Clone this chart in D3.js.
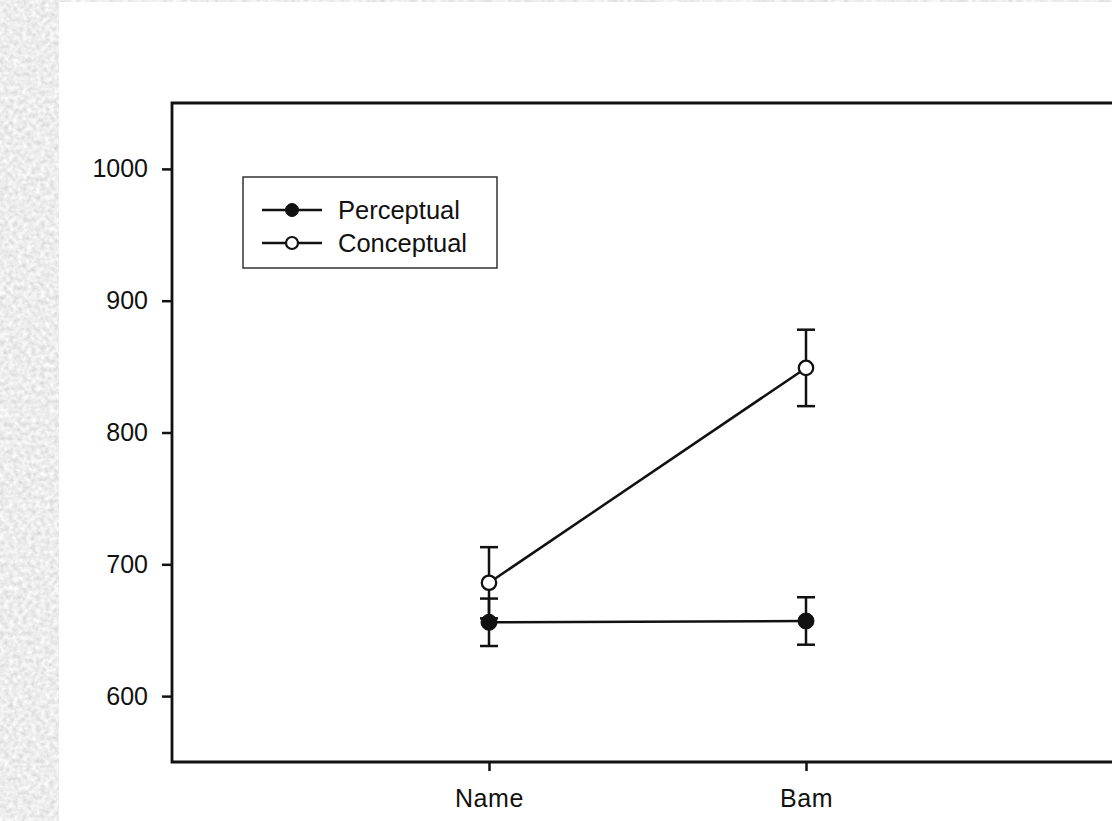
<!DOCTYPE html>
<html>
<head>
<meta charset="utf-8">
<script src="https://cdn.jsdelivr.net/npm/d3@7"></script>
<style>
  html, body { margin: 0; padding: 0; background: #fff; }
  svg { display: block; }
  text { font-family: "Liberation Sans", Arial, sans-serif; fill: #111; }
</style>
</head>
<body>
<svg id="chart" width="1112" height="821"></svg>
<script>
// Conditions on the x axis
const categories = ["Name", "Bam"];
// Mean response times and error half-widths per condition
const perceptual = [656, 657];
const perceptualErr = [18, 18];
const conceptual = [686, 849];
const conceptualErr = [27, 29];
// Y axis ticks
const yTicks = [600, 700, 800, 900, 1000];
const seriesNames = ["Perceptual", "Conceptual"];

const svg = d3.select("#chart");
const W = 1112, H = 821;
const FONT = "'Liberation Sans', Arial, sans-serif";

// Paper-like textured margin
const defs = svg.append("defs");
const f = defs.append("filter").attr("id", "grain")
  .attr("x", 0).attr("y", 0).attr("width", "100%").attr("height", "100%");
f.append("feTurbulence").attr("type", "fractalNoise")
  .attr("baseFrequency", 0.22).attr("numOctaves", 3).attr("seed", 7).attr("result", "n");
f.append("feColorMatrix").attr("type", "matrix").attr("in", "n")
  .attr("values", "0.45 0 0 0 0.62  0.45 0 0 0 0.62  0.45 0 0 0 0.62  0 0 0 0 1");
svg.append("rect").attr("x", 0).attr("y", 0).attr("width", 59).attr("height", H)
  .attr("filter", "url(#grain)");
svg.append("rect").attr("x", 0).attr("y", 0).attr("width", W).attr("height", 2)
  .attr("filter", "url(#grain)");

const plot = { left: 172, top: 103, bottom: 762, right: 1123 };

const x = d3.scalePoint().domain(categories).range([plot.left, plot.right]).padding(1);
const y = d3.scaleLinear().domain([550, 1050]).range([plot.bottom, plot.top]);

// Frame: top, left and bottom edges (right edge falls outside the page)
svg.append("path")
  .attr("d", `M${W + 5},${plot.top} H${plot.left} V${plot.bottom} H${W + 5}`)
  .attr("fill", "none").attr("stroke", "#111").attr("stroke-width", 2.8);

// Y axis
const yAxis = svg.append("g").attr("transform", `translate(${plot.left},0)`)
  .call(d3.axisLeft(y).tickValues(yTicks).tickFormat(d3.format("d"))
    .tickSize(10).tickPadding(14));
yAxis.select(".domain").remove();
yAxis.selectAll(".tick line").attr("stroke", "#111").attr("stroke-width", 2.5);
yAxis.selectAll(".tick text").attr("font-size", 25).attr("fill", "#111")
  .style("font-family", FONT);

// X axis
const xAxis = svg.append("g").attr("transform", `translate(0,${plot.bottom})`)
  .call(d3.axisBottom(x).tickSize(9).tickPadding(18));
xAxis.select(".domain").remove();
xAxis.selectAll(".tick line").attr("stroke", "#111").attr("stroke-width", 2.5);
xAxis.selectAll(".tick text").attr("font-size", 25).attr("fill", "#111")
  .attr("letter-spacing", 0.6).style("font-family", FONT);

const line = d3.line().x((d, i) => x(categories[i])).y(d => y(d));

function drawSeries(vals, errs) {
  const g = svg.append("g");
  g.append("path").datum(vals).attr("d", line)
    .attr("fill", "none").attr("stroke", "#111").attr("stroke-width", 2.5);
  vals.forEach((v, i) => {
    const cx = x(categories[i]);
    const top = y(v + errs[i]), bot = y(v - errs[i]);
    g.append("line").attr("x1", cx).attr("x2", cx).attr("y1", top).attr("y2", bot)
      .attr("stroke", "#111").attr("stroke-width", 2.5);
    [top, bot].forEach(yy => g.append("line")
      .attr("x1", cx - 9).attr("x2", cx + 9).attr("y1", yy).attr("y2", yy)
      .attr("stroke", "#111").attr("stroke-width", 2.5));
  });
  return g;
}
function drawMarkers(g, vals, filled) {
  vals.forEach((v, i) => {
    g.append("circle").attr("cx", x(categories[i])).attr("cy", y(v))
      .attr("r", filled ? 8 : 7.2)
      .attr("fill", filled ? "#111" : "#fff")
      .attr("stroke", "#111").attr("stroke-width", filled ? 1 : 2.3);
  });
}

const gC = drawSeries(conceptual, conceptualErr);
const gP = drawSeries(perceptual, perceptualErr);
drawMarkers(gC, conceptual, false);
drawMarkers(gP, perceptual, true);

// Legend
const lg = svg.append("g");
lg.append("rect").attr("x", 243).attr("y", 177).attr("width", 254).attr("height", 91)
  .attr("fill", "#fff").attr("stroke", "#333").attr("stroke-width", 1.5);
seriesNames.forEach((name, i) => {
  const yy = 210 + i * 33;
  lg.append("line").attr("x1", 262).attr("x2", 322).attr("y1", yy).attr("y2", yy)
    .attr("stroke", "#111").attr("stroke-width", 2.5);
  lg.append("circle").attr("cx", 292).attr("cy", yy).attr("r", i === 0 ? 6.5 : 6)
    .attr("fill", i === 0 ? "#111" : "#fff").attr("stroke", "#111")
    .attr("stroke-width", i === 0 ? 1 : 2.2);
  lg.append("text").attr("x", 338).attr("y", yy).attr("dy", "0.36em")
    .attr("font-size", 25.5).text(name);
});
</script>
</body>
</html>
